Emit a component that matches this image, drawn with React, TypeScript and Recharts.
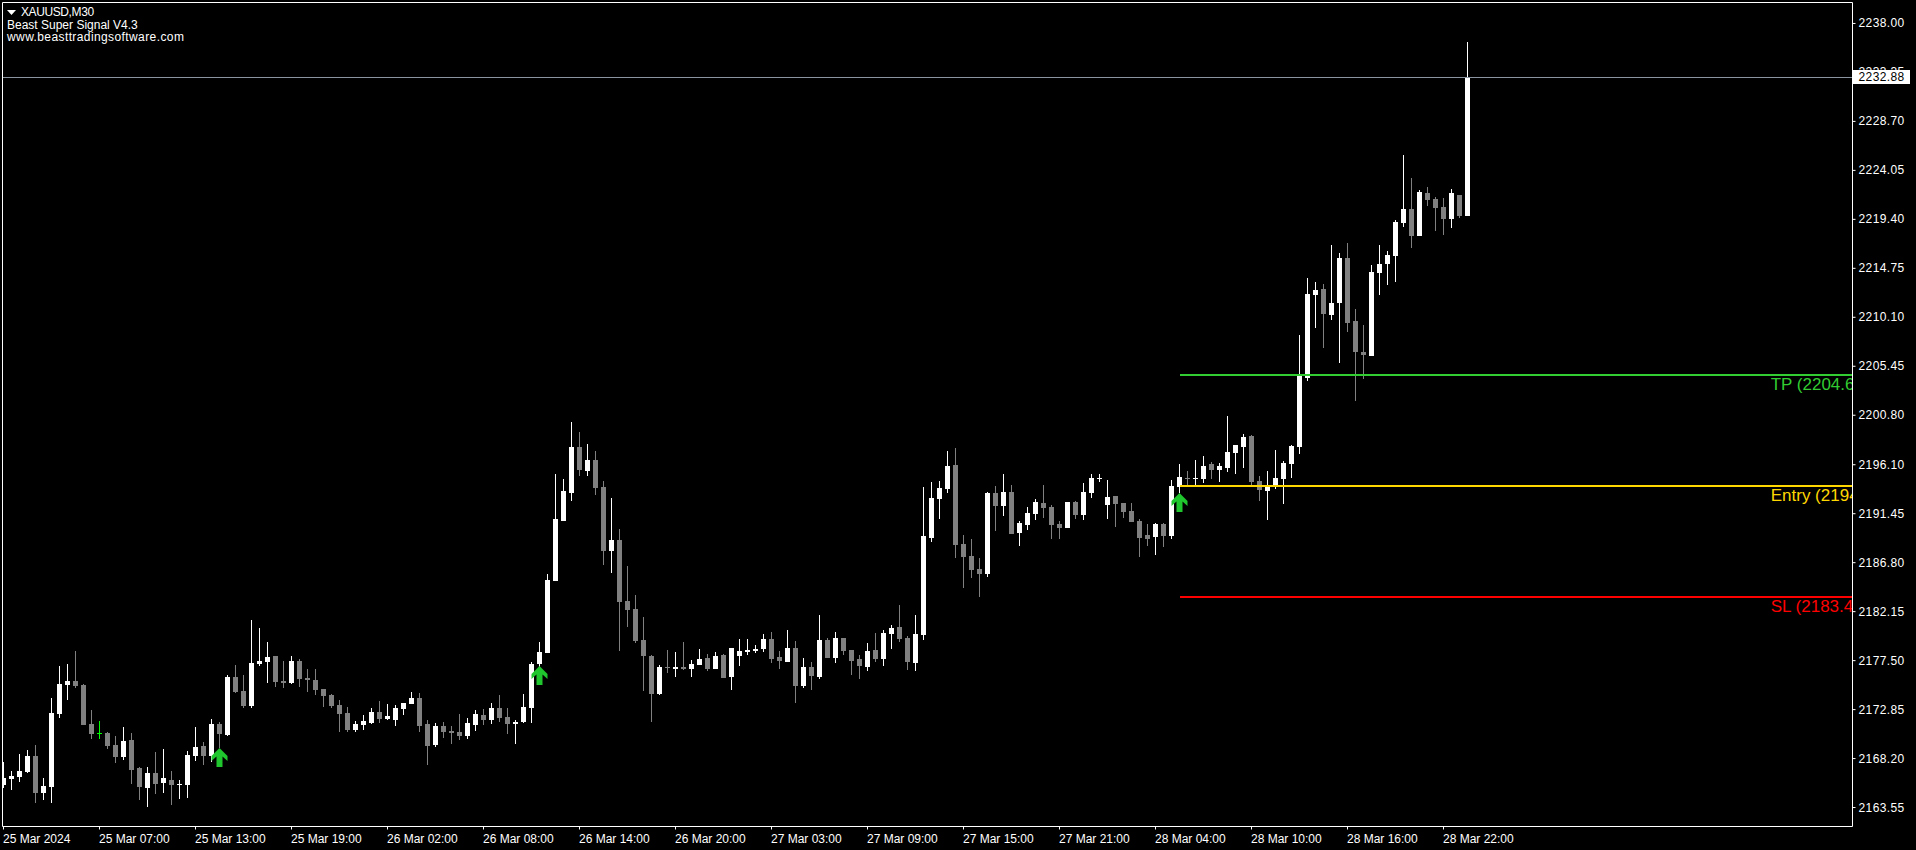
import {
  ComposedChart,
  Bar,
  Scatter,
  XAxis,
  YAxis,
  ReferenceLine,
  ReferenceDot,
} from "recharts";

// XAUUSD M30, 184 velas (MT4).

const opens = [
  2165.69,2166.26,2166.45,2166.93,2168.45,2164.93,2165.50,2172.43,2175.19,2175.57,
  2175.19,2171.49,2170.65,2170.63,2169.49,2168.35,2169.97,2167.31,2165.41,2166.83,
  2165.88,2166.17,2165.73,2165.69,2168.45,2169.40,2168.45,2171.49,2170.44,2175.95,
  2174.62,2173.19,2177.18,2177.37,2177.94,2175.57,2175.38,2177.47,2175.85,2175.66,
  2174.81,2174.24,2173.29,2172.53,2170.92,2171.39,2171.58,2172.63,2171.96,2171.87,
  2172.91,2173.39,2173.95,2171.49,2169.49,2171.30,2170.82,2170.73,2170.35,2171.39,
  2172.34,2171.87,2173.01,2172.15,2171.49,2171.68,2173.00,2177.18,2178.23,2185.06,
  2190.76,2193.42,2197.79,2195.51,2196.55,2193.99,2187.91,2188.96,2183.16,2182.40,
  2179.46,2177.94,2174.33,2176.90,2176.71,2176.90,2176.71,2177.09,2177.75,2176.71,
  2178.04,2175.95,2177.94,2178.32,2178.42,2178.61,2179.56,2177.85,2177.37,2178.70,
  2175.09,2176.90,2175.95,2179.46,2177.75,2179.65,2178.51,2177.66,2176.90,2178.51,
  2177.66,2180.03,2180.70,2179.65,2177.28,2179.93,2189.14,2192.85,2193.80,2196.08,
  2188.58,2187.44,2186.20,2185.73,2193.42,2192.18,2193.51,2189.62,2190.38,2191.42,
  2192.47,2192.09,2190.47,2190.09,2192.56,2191.33,2193.42,2194.75,2192.28,2193.13,
  2192.47,2191.71,2190.76,2189.43,2189.24,2190.47,2189.33,2193.99,2194.84,2194.75,
  2194.75,2196.17,2195.60,2195.79,2197.22,2197.79,2198.83,2194.56,2193.61,2194.08,
  2194.75,2196.17,2197.79,2204.34,2212.22,2212.79,2210.32,2211.46,2215.73,2209.75,
  2206.81,2206.43,2214.31,2215.16,2215.92,2219.05,2220.38,2217.82,2221.90,2221.33,
  2220.57,2219.43,2221.71,2219.72,
];
const highs = [
  2167.91,2167.05,2168.64,2169.02,2169.49,2166.36,2173.95,2176.99,2177.18,2178.42,
  2175.25,2172.81,2171.77,2170.73,2170.35,2171.20,2170.63,2167.40,2167.40,2168.83,
  2169.11,2167.02,2166.17,2168.92,2171.20,2169.78,2171.96,2171.68,2176.14,2177.09,
  2176.14,2181.36,2180.60,2179.27,2177.94,2177.47,2177.94,2177.66,2176.71,2176.71,
  2174.81,2174.33,2173.76,2173.10,2171.77,2172.34,2173.01,2173.67,2173.39,2173.29,
  2173.48,2174.52,2174.43,2171.87,2171.58,2171.68,2171.30,2172.44,2172.06,2172.82,
  2172.91,2173.48,2174.24,2173.01,2171.87,2174.33,2177.37,2179.27,2185.73,2195.22,
  2194.75,2200.16,2199.21,2198.07,2197.41,2194.56,2192.94,2190.00,2186.49,2183.73,
  2181.65,2178.04,2177.09,2178.51,2178.32,2179.27,2177.56,2178.61,2178.13,2178.32,
  2178.13,2178.70,2179.56,2179.56,2178.99,2180.03,2180.22,2178.42,2180.41,2179.37,
  2177.75,2177.37,2181.84,2179.65,2180.22,2179.65,2178.51,2178.04,2179.18,2180.13,
  2180.41,2180.89,2182.79,2179.84,2181.84,2193.99,2194.46,2194.56,2197.41,2197.69,
  2189.43,2189.05,2187.25,2193.51,2194.08,2195.22,2194.18,2190.76,2192.09,2192.85,
  2194.18,2192.28,2190.76,2192.56,2192.66,2194.37,2195.22,2195.22,2194.65,2193.13,
  2192.47,2192.47,2190.95,2190.47,2190.57,2190.57,2194.65,2196.17,2195.51,2196.55,
  2196.93,2196.36,2196.27,2200.73,2197.98,2199.02,2198.93,2195.03,2195.51,2197.50,
  2196.46,2197.98,2208.42,2213.83,2213.45,2213.26,2216.97,2216.21,2217.16,2210.89,
  2209.37,2215.07,2216.97,2216.40,2219.34,2225.51,2223.33,2222.19,2222.47,2221.52,
  2221.43,2222.28,2221.71,2236.24,
];
const lows = [
  2165.44,2165.22,2165.98,2166.86,2164.02,2164.27,2164.02,2172.05,2173.76,2174.90,
  2171.39,2170.06,2170.06,2169.11,2167.78,2168.07,2165.79,2164.27,2163.60,2164.84,
  2164.93,2163.79,2164.36,2164.46,2167.97,2167.59,2167.88,2169.17,2170.35,2174.43,
  2173.00,2173.00,2176.99,2175.38,2175.00,2174.90,2175.28,2175.00,2174.52,2174.24,
  2173.10,2173.01,2170.73,2170.73,2170.73,2170.92,2171.49,2171.58,2171.87,2171.30,
  2172.34,2173.39,2170.73,2167.59,2169.30,2170.16,2169.59,2169.97,2170.06,2170.82,
  2171.39,2171.49,2171.68,2170.54,2169.59,2171.58,2171.58,2176.93,2178.23,2185.06,
  2190.76,2192.66,2195.03,2195.03,2193.23,2186.58,2185.82,2178.42,2180.70,2179.18,
  2174.62,2171.68,2174.24,2176.33,2175.95,2176.61,2175.95,2177.09,2176.52,2176.71,
  2175.85,2174.71,2176.99,2178.04,2178.23,2178.32,2177.28,2176.71,2177.37,2173.48,
  2174.90,2174.71,2175.76,2177.75,2177.28,2178.04,2176.14,2175.76,2176.52,2177.37,
  2176.99,2178.61,2179.27,2176.61,2176.52,2179.46,2188.77,2190.95,2193.42,2187.25,
  2184.40,2185.35,2183.54,2185.44,2189.81,2191.23,2189.52,2188.39,2189.90,2190.85,
  2191.04,2189.05,2189.05,2190.09,2190.95,2190.85,2192.94,2194.46,2190.95,2190.19,
  2191.04,2190.66,2187.34,2188.39,2187.53,2188.29,2189.05,2193.39,2194.08,2194.08,
  2194.37,2194.75,2194.46,2195.41,2195.22,2195.79,2193.99,2192.66,2190.86,2193.80,
  2192.38,2194.84,2197.12,2204.05,2209.08,2207.19,2209.84,2205.76,2208.71,2202.15,
  2204.24,2206.43,2212.22,2213.17,2213.45,2218.67,2216.68,2217.82,2220.67,2218.30,
  2217.92,2218.58,2219.53,2219.72,
];
const closes = [
  2166.33,2166.58,2167.02,2168.45,2164.97,2165.60,2172.53,2175.28,2175.57,2175.09,
  2171.39,2170.54,2170.65,2169.40,2168.35,2169.87,2167.12,2165.50,2166.83,2165.79,
  2166.36,2165.69,2165.79,2168.54,2169.30,2168.45,2171.49,2170.54,2175.95,2174.52,
  2173.19,2177.28,2177.47,2177.85,2175.47,2175.38,2177.47,2175.76,2175.66,2174.71,
  2174.14,2173.20,2172.44,2170.92,2171.49,2171.77,2172.63,2171.96,2172.25,2173.01,
  2173.48,2173.95,2171.30,2169.40,2171.30,2170.73,2170.63,2170.35,2171.58,2172.44,
  2171.87,2173.01,2172.06,2171.49,2171.68,2173.10,2177.18,2178.32,2185.16,2190.95,
  2193.61,2197.79,2195.60,2196.55,2193.89,2187.91,2188.96,2183.07,2182.31,2179.37,
  2177.94,2174.33,2176.90,2176.80,2176.90,2176.71,2177.18,2177.66,2176.71,2177.94,
  2175.85,2178.70,2178.42,2178.51,2178.61,2179.56,2177.66,2177.47,2178.70,2175.09,
  2176.90,2176.04,2179.46,2177.75,2179.65,2178.42,2177.47,2176.99,2178.42,2177.66,
  2180.13,2180.60,2179.56,2177.37,2180.03,2189.33,2192.94,2193.89,2195.98,2188.48,
  2187.34,2186.11,2185.73,2193.42,2192.18,2193.51,2189.52,2190.57,2191.52,2192.56,
  2191.99,2190.38,2190.09,2192.56,2191.33,2193.51,2194.84,2194.84,2193.04,2192.37,
  2191.61,2190.66,2189.14,2189.05,2190.47,2189.33,2194.08,2194.94,2194.75,2194.84,
  2195.98,2195.60,2195.98,2197.31,2197.98,2198.74,2194.46,2193.70,2194.18,2194.84,
  2196.27,2197.88,2204.53,2212.31,2212.69,2210.41,2211.46,2215.73,2209.56,2206.81,
  2206.52,2214.40,2215.16,2216.02,2219.15,2220.38,2217.82,2222.00,2221.24,2220.48,
  2219.43,2221.90,2219.72,2232.88,
];

const timeTicks = [0, 12, 24, 36, 48, 60, 72, 84, 96, 108, 120, 132, 144, 156, 168, 180];
const timeLabels = [
  "25 Mar 2024", "25 Mar 07:00", "25 Mar 13:00", "25 Mar 19:00",
  "26 Mar 02:00", "26 Mar 08:00", "26 Mar 14:00", "26 Mar 20:00",
  "27 Mar 03:00", "27 Mar 09:00", "27 Mar 15:00", "27 Mar 21:00",
  "28 Mar 04:00", "28 Mar 10:00", "28 Mar 16:00", "28 Mar 22:00",
];
const lastPrice = 2232.88;
// el precio actual va ultimo para que su etiqueta tape al tick 2233.35
const priceTicks = [
  2238.0, 2233.35, 2228.7, 2224.05, 2219.4, 2214.75, 2210.1, 2205.45, 2200.8,
  2196.1, 2191.45, 2186.8, 2182.15, 2177.5, 2172.85, 2168.2, 2163.55, lastPrice,
];

const arrowBars = [27, 67, 147];
const arrowPrices = [2169.2, 2177.0, 2193.42];

const signalStart = 147;
const levels = [
  { name: "TP", price: 2204.62, text: "TP (2204.62)", color: "#32cd32" },
  { name: "Entry", price: 2194.08, text: "Entry (2194.08)", color: "#ffd700" },
  { name: "SL", price: 2183.54, text: "SL (2183.45)", color: "#ff0000" },
];

const xMin = -0.125;
const xMax = 231.125;
const yMin = 2161.75;
const yMax = 2239.99;
const labelBar = 220.9;

const FONT = '"Liberation Sans", Arial, sans-serif';

const rows = opens.map((open, i) => ({
  i,
  open,
  close: closes[i],
  high: highs[i],
  low: lows[i],
  range: [lows[i], highs[i]],
}));
const arrowRows = arrowBars.map((i, n) => ({ i, arrow: arrowPrices[n] }));

function Candle(props: any) {
  const { x, width, y, height, payload } = props;
  const { open, close, high, low } = payload;
  const color = close > open ? "#ffffff" : close < open ? "#808080" : "#00ff00";
  const k = height / (high - low);
  const cx = Math.floor(x + width / 2);
  const top = Math.round(y + (high - Math.max(open, close)) * k);
  const bottom = Math.round(y + (high - Math.min(open, close)) * k);
  const left = Math.max(cx - 2, 3);
  return (
    <g shapeRendering="crispEdges">
      <rect x={cx} y={Math.round(y)} width={1} height={Math.max(1, Math.round(height))} fill={color} />
      <rect x={left} y={top} width={cx + 3 - left} height={Math.max(1, bottom - top)} fill={color} />
    </g>
  );
}

function ArrowMark({ cx, cy }: any) {
  return (
    <polygon
      transform={`translate(${cx},${cy})`}
      points="0,0 8,8 8,13 3,8.5 3,19 -3,19 -3,8.5 -8,13 -8,8"
      fill="#20c62e"
    />
  );
}

function TimeTick({ x, y, payload }: any) {
  return (
    <text x={x - 0.5} y={y + 11} fill="#fff" fontSize={12} fontFamily={FONT} textAnchor="start">
      {timeLabels[timeTicks.indexOf(payload.value)]}
    </text>
  );
}

function PriceTick({ x, y, payload }: any) {
  const isLast = payload.value === lastPrice;
  return (
    <g>
      {isLast && (
        <rect x={Math.floor(x) - 5} y={Math.round(y) - 7} width={57} height={14} fill="#fff" shapeRendering="crispEdges" />
      )}
      <text x={x} y={y + 4} fill={isLast ? "#000" : "#fff"} fontSize={12} letterSpacing={0.4} fontFamily={FONT}>
        {payload.value.toFixed(2)}
      </text>
    </g>
  );
}

function LevelLabel({ cx, cy, text, color }: any) {
  // svg anidado: recorta el texto contra el marco, como MT4
  return (
    <svg x={cx} y={cy} width={1852 - cx} height={24}>
      <text x={0} y={15} fill={color} fontSize={17} fontFamily={FONT}>
        {text}
      </text>
    </svg>
  );
}

export default function App() {
  return (
    <div style={{ position: "absolute", left: 0, top: 0, width: 1916, height: 850, background: "#000", overflow: "hidden" }}>
      <ComposedChart
        width={1916}
        height={850}
        data={rows}
        margin={{ top: 2.5, right: 0, bottom: 0, left: 2.5 }}
        style={{ background: "#000" }}
      >
        <XAxis
          dataKey="i"
          type="number"
          domain={[xMin, xMax]}
          ticks={timeTicks}
          interval={0}
          height={23.5}
          stroke="#fff"
          tickSize={3}
          tick={<TimeTick />}
        />
        <YAxis
          orientation="right"
          type="number"
          domain={[yMin, yMax]}
          ticks={priceTicks}
          interval={0}
          width={63.5}
          stroke="#fff"
          tickSize={3}
          tickMargin={3}
          tick={<PriceTick />}
        />
        <ReferenceLine y={yMax} stroke="#fff" />
        <ReferenceLine x={xMin} stroke="#fff" />
        <ReferenceLine y={lastPrice} stroke="#8a94a0" shapeRendering="crispEdges" />
        {levels.map((l) => (
          <ReferenceLine
            key={l.name}
            segment={[{ x: signalStart, y: l.price }, { x: xMax, y: l.price }]}
            stroke={l.color}
            strokeWidth={2}
            shapeRendering="crispEdges"
          />
        ))}
        <Bar dataKey="range" barSize={5} shape={<Candle />} isAnimationActive={false} />
        <Scatter data={arrowRows} dataKey="arrow" shape={<ArrowMark />} isAnimationActive={false} />
        {levels.map((l) => (
          <ReferenceDot
            key={l.name + "-label"}
            x={labelBar}
            y={l.price}
            r={1}
            shape={<LevelLabel text={l.text} color={l.color} />}
          />
        ))}
      </ComposedChart>
      <svg style={{ position: "absolute", left: 7, top: 10 }} width={10} height={6}>
        <polygon points="0,0 9,0 4.5,5" fill="#fff" />
      </svg>
      <div style={{ position: "absolute", left: 21, top: 5, font: `12px ${FONT}`, letterSpacing: -0.4, color: "#fff", lineHeight: "14px", whiteSpace: "nowrap" }}>
        XAUUSD,M30
      </div>
      <div style={{ position: "absolute", left: 7, top: 18, font: `12px ${FONT}`, color: "#fff", lineHeight: "14px", whiteSpace: "nowrap" }}>
        Beast Super Signal V4.3
      </div>
      <div style={{ position: "absolute", left: 7, top: 30, font: `12px ${FONT}`, letterSpacing: 0.4, color: "#fff", lineHeight: "14px", whiteSpace: "nowrap" }}>
        www.beasttradingsoftware.com
      </div>
    </div>
  );
}
